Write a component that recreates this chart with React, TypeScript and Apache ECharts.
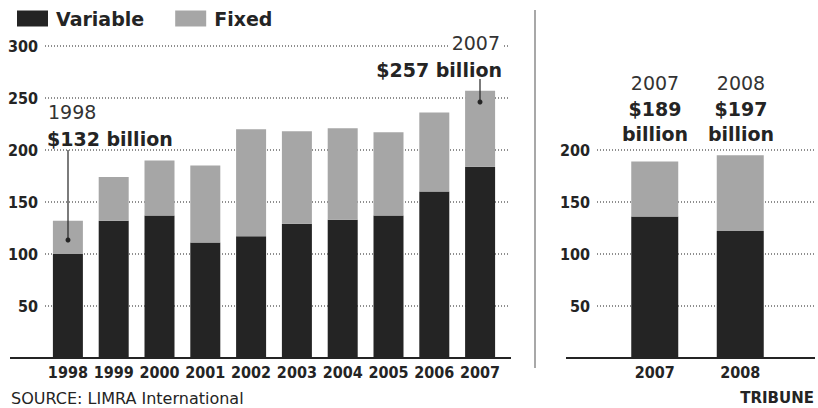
import React, { useEffect, useRef } from "react";
import * as echarts from "echarts";

const years = ["1998", "1999", "2000", "2001", "2002", "2003", "2004", "2005", "2006", "2007"];
const variableValues = [100, 132, 137, 111, 117, 129, 133, 137, 160, 184];
const fixedValues = [32, 42, 53, 74, 103, 89, 88, 80, 76, 73];

const forecastYears = ["2007", "2008"];
const forecastVariable = [136, 122];
const forecastFixed = [53, 73];

const DARK = "#242424";
const GRAY = "#a6a6a6";
const NARROW = "'DejaVu Sans Condensed', 'Liberation Sans Narrow', sans-serif";
const SANS = "'DejaVu Sans', sans-serif";

export default function App() {
  const ref = useRef<HTMLDivElement>(null);
  useEffect(() => {
    if (!ref.current) return;
    const chart = echarts.init(ref.current, undefined, { renderer: "svg" });
    const splitLine = { show: true, lineStyle: { color: "#6a6a6a", width: 1.5, type: [1, 2] as any } };
    const yLabel = {
      color: DARK,
      fontFamily: NARROW,
      fontWeight: "bold" as const,
      fontSize: 16,
      margin: 7,
      formatter: (v: number) => (v === 0 ? "" : String(v)),
    };
    const xLabel = { color: DARK, fontFamily: NARROW, fontWeight: "bold" as const, fontSize: 16, margin: 6, interval: 0 };
    const hiddenY = (max: number) => ({
      type: "value" as const, min: 0, max, interval: 50, show: false, splitLine: { show: false },
    });
    const visibleY = (gridIndex: number, max: number) => ({
      type: "value" as const, gridIndex, min: 0, max, interval: 50,
      axisLine: { show: false }, axisTick: { show: false }, axisLabel: yLabel, splitLine,
    });
    const boldText = { fontFamily: SANS, fontWeight: "bold", fontSize: 19, fill: DARK };
    const lightText = { fontFamily: SANS, fontWeight: "normal", fontSize: 19, fill: "#333" };
    chart.setOption({
      animation: false,
      legend: {
        left: 12,
        top: 4,
        itemWidth: 31,
        itemHeight: 16,
        itemGap: 31,
        icon: "rect",
        data: ["Variable", "Fixed"],
        textStyle: { fontFamily: SANS, fontWeight: "bold", fontSize: 19, color: DARK, padding: [0, 0, 0, 3] },
      },
      grid: [
        { left: 45, right: 310, top: 46, bottom: 50 },
        { left: 45, right: 315, top: 46, bottom: 50 },
        { left: 597, right: 3, top: 150, bottom: 50 },
        { left: 612, right: 35, top: 150, bottom: 50 },
      ],
      xAxis: [
        { type: "category", gridIndex: 0, data: years, show: false },
        {
          type: "category", gridIndex: 1, data: years,
          axisLine: { show: false }, axisTick: { show: false }, axisLabel: xLabel,
        },
        { type: "category", gridIndex: 2, data: forecastYears, show: false },
        {
          type: "category", gridIndex: 3, data: forecastYears,
          axisLine: { show: false }, axisTick: { show: false }, axisLabel: xLabel,
        },
      ],
      yAxis: [
        visibleY(0, 300),
        { ...hiddenY(300), gridIndex: 1 },
        visibleY(2, 200),
        { ...hiddenY(200), gridIndex: 3 },
      ],
      series: [
        {
          name: "Variable", type: "bar", xAxisIndex: 1, yAxisIndex: 1, stack: "a",
          data: variableValues, barWidth: 30, itemStyle: { color: DARK },
        },
        {
          name: "Fixed", type: "bar", xAxisIndex: 1, yAxisIndex: 1, stack: "a",
          data: fixedValues, barWidth: 30, itemStyle: { color: GRAY },
        },
        {
          name: "Variable", type: "bar", xAxisIndex: 3, yAxisIndex: 3, stack: "b",
          data: forecastVariable, barWidth: 47, itemStyle: { color: DARK },
        },
        {
          name: "Fixed", type: "bar", xAxisIndex: 3, yAxisIndex: 3, stack: "b",
          data: forecastFixed, barWidth: 47, itemStyle: { color: GRAY },
        },
      ],
      graphic: [
        { type: "line", shape: { x1: 535, y1: 10, x2: 535, y2: 368 }, style: { stroke: "#a8a8a8", lineWidth: 2 } },
        { type: "line", z: 10, shape: { x1: 10, y1: 358, x2: 511, y2: 358 }, style: { stroke: DARK, lineWidth: 2 } },
        { type: "line", z: 10, shape: { x1: 566, y1: 358, x2: 815, y2: 358 }, style: { stroke: DARK, lineWidth: 2 } },
        { type: "line", z: 10, shape: { x1: 68, y1: 150, x2: 68, y2: 240 }, style: { stroke: DARK, lineWidth: 1.2 } },
        { type: "circle", z: 10, shape: { cx: 68, cy: 240, r: 2.5 }, style: { fill: DARK } },
        { type: "line", z: 10, shape: { x1: 480, y1: 79, x2: 480, y2: 102 }, style: { stroke: DARK, lineWidth: 1.2 } },
        { type: "circle", z: 10, shape: { cx: 480, cy: 102, r: 2.5 }, style: { fill: DARK } },
        { type: "text", z: 10, x: 48, y: 112, style: { ...lightText, text: "1998", verticalAlign: "middle" } },
        { type: "text", z: 10, x: 47, y: 139, style: { ...boldText, text: "$132 billion", verticalAlign: "middle" } },
        {
          type: "text", z: 10, x: 502, y: 43,
          style: { ...lightText, text: "2007", align: "right", verticalAlign: "middle", backgroundColor: "#fff", padding: [0, 2, 0, 2] },
        },
        { type: "text", z: 10, x: 502, y: 70, style: { ...boldText, text: "$257 billion", align: "right", verticalAlign: "middle" } },
        { type: "text", z: 10, x: 655, y: 83, style: { ...lightText, text: "2007", align: "center", verticalAlign: "middle" } },
        { type: "text", z: 10, x: 655, y: 108.5, style: { ...boldText, text: "$189", align: "center", verticalAlign: "middle" } },
        { type: "text", z: 10, x: 655, y: 134, style: { ...boldText, text: "billion", align: "center", verticalAlign: "middle" } },
        { type: "text", z: 10, x: 741, y: 83, style: { ...lightText, text: "2008", align: "center", verticalAlign: "middle" } },
        { type: "text", z: 10, x: 741, y: 108.5, style: { ...boldText, text: "$197", align: "center", verticalAlign: "middle" } },
        { type: "text", z: 10, x: 741, y: 134, style: { ...boldText, text: "billion", align: "center", verticalAlign: "middle" } },
        {
          type: "text", z: 10, x: 11, y: 398,
          style: { fontFamily: SANS, fontSize: 16, fill: DARK, text: "SOURCE: LIMRA International", verticalAlign: "middle" },
        },
        {
          type: "text", z: 10, x: 814, y: 398,
          style: { fontFamily: SANS, fontWeight: "bold", fontSize: 15, fill: DARK, text: "TRIBUNE", align: "right", verticalAlign: "middle" },
        },
      ],
    });
    return () => chart.dispose();
  }, []);
  return <div ref={ref} style={{ position: "fixed", left: 0, top: 0, width: 818, height: 408, background: "#fff" }} />;
}
